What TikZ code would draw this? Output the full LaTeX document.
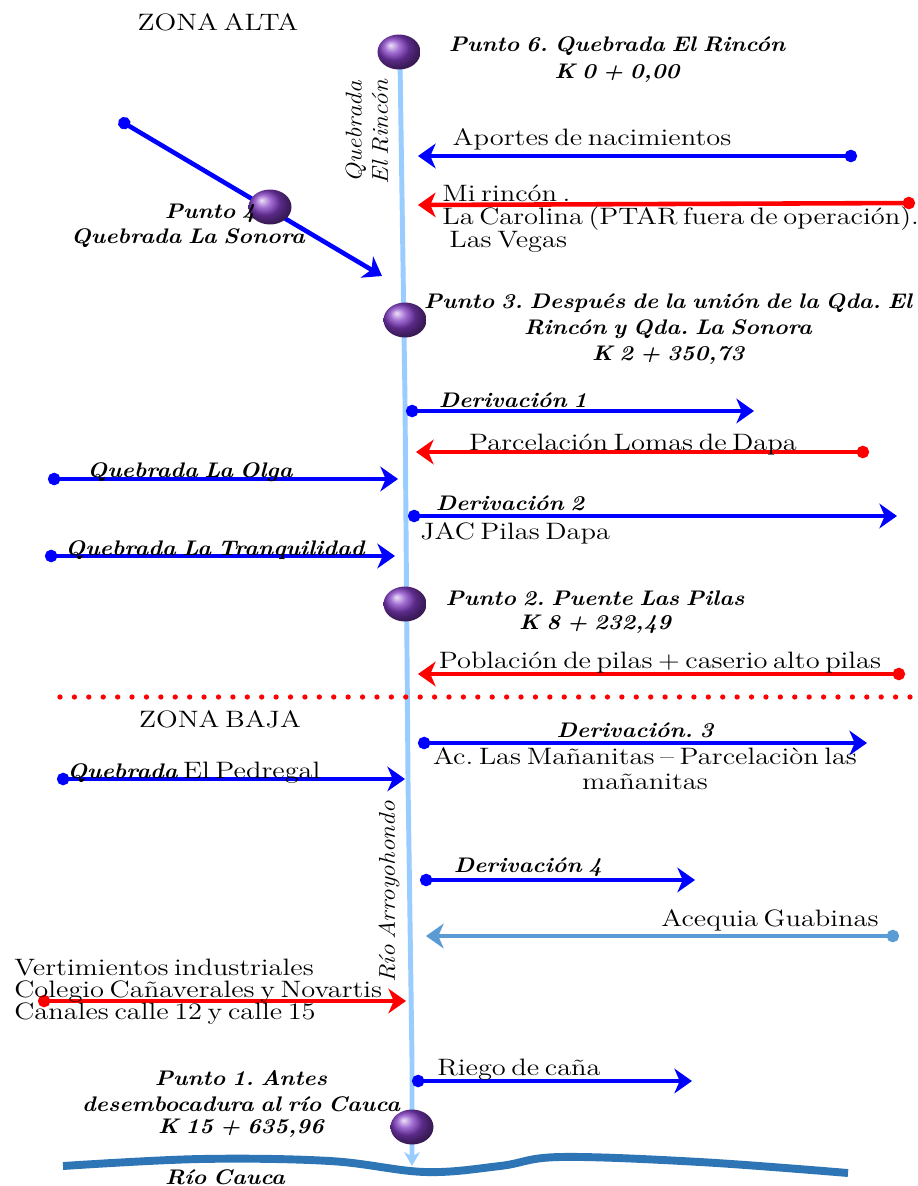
\documentclass[tikz,border=0pt]{standalone}
\usepackage{fontspec}
\setmainfont{Latin Modern Roman}[FakeStretch=1.2, WordSpace=0.6]
\newfontfamily\bifam{Latin Modern Roman}[FakeStretch=1.1, WordSpace=0.7]
\usetikzlibrary{arrows.meta,shapes.geometric}
\definecolor{riverlb}{RGB}{153,204,255}
\definecolor{flowblue}{RGB}{0,0,255}
\definecolor{flowred}{RGB}{255,0,0}
\definecolor{acequia}{RGB}{91,155,213}
\definecolor{cauca}{RGB}{46,117,182}
\definecolor{ballpurple}{RGB}{130,60,195}
\frenchspacing
\begin{document}
\begin{tikzpicture}[x=0.02cm,y=-0.02cm,
  reg/.style={font=\fontsize{13.5}{15}\selectfont, inner sep=0pt, anchor=base},
  bi/.style={font=\bifam\fontsize{12}{14}\selectfont\bfseries\itshape, inner sep=0pt, anchor=base},
  itl/.style={font=\bifam\fontsize{13}{15}\selectfont\itshape, inner sep=0pt, rotate=90, align=center},
  flow/.style={line width=2.6pt, {Circle[length=7pt]}-{Stealth[length=10pt,width=14pt,inset=3pt]}},
  bluef/.style={flow, flowblue},
  redf/.style={flow, flowred},
  aceqf/.style={flow, acequia},
  ballnode/.style={ellipse, minimum width=0.86cm, minimum height=0.7cm, inner sep=0pt, ball color=ballpurple, draw=none},
  river/.style={riverlb, line width=2.8pt, -{Stealth[length=8pt,width=9pt]}}]
\fill[white] (0,0) rectangle (917,1186);
\useasboundingbox (0,0) rectangle (917,1186);

% main river
\coordinate (r0) at (400,60);
\coordinate (r1) at (405,400);
\coordinate (r2) at (408,780);
\coordinate (r3) at (412,1060);
\coordinate (rend) at (412,1166);
\draw[river] (r0) -- (r1) -- (r2) -- (r3) -- (rend);

% Rio Cauca
\draw[cauca, line width=4.5pt] plot[smooth, tension=0.6] coordinates {(63,1166) (200,1159) (330,1161) (425,1172) (500,1166) (560,1157) (700,1162) (848,1173)};
\node[bi] (cauca) at (225,1184) {Río Cauca};

% zone labels and divider
\node[reg] (zalta) at (218,31) {ZONA ALTA};
\node[reg] (zbaja) at (220,727) {ZONA BAJA};
\coordinate (dl) at (60,697);
\coordinate (dr) at (912,697);
\draw[flowred, line width=3pt, line cap=round, dash pattern=on 0pt off 8.2pt] (dl) -- (dr);

% rotated river names
\node[itl] (qrincon) at (367,132) {Quebrada\\El Rincón};
\node[itl] (arroyo) at (389,892) {Río Arroyohondo};

% Aportes de nacimientos
\coordinate (a1s) at (857,156);
\coordinate (a1e) at (418,156);
\draw[bluef] (a1s) -- (a1e);
\node[reg] (aportes) at (592,145) {Aportes de nacimientos};

% Mi rincon
\coordinate (m1s) at (915,203);
\coordinate (m1e) at (418,205);
\draw[redf] (m1s) -- (m1e);
\node[reg, anchor=base west] (mir1) at (442,201) {Mi rincón .};
\node[reg, anchor=base west] (mir2) at (442,224) {La Carolina (PTAR fuera de operación).};
\node[reg, anchor=base west] (mir3) at (449,247) {Las Vegas};

% Quebrada La Sonora (diagonal)
\coordinate (s1s) at (119,120);
\coordinate (s1e) at (382,276);
\draw[bluef] (s1s) -- (s1e);
\node[ballnode] (p4) at (270,207) {};
\node[bi, anchor=base east] (p4a) at (256,218) {Punto 4};
\node[bi] (p4b) at (188,243) {Quebrada La Sonora};

% Derivacion 1
\coordinate (d1s) at (406,411);
\coordinate (d1e) at (754,411);
\draw[bluef] (d1s) -- (d1e);
\node[bi] (der1) at (513,407) {Derivación 1};

% Parcelacion Lomas de Dapa
\coordinate (pl1s) at (869,452);
\coordinate (pl1e) at (416,452);
\draw[redf] (pl1s) -- (pl1e);
\node[reg] (lomas) at (633,450) {Parcelación Lomas de Dapa};

% Quebrada La Olga
\coordinate (o1s) at (48,479);
\coordinate (o1e) at (398,479);
\draw[bluef] (o1s) -- (o1e);
\node[bi] (olga) at (190,477) {Quebrada La Olga};

% Derivacion 2
\coordinate (d2s) at (408,516);
\coordinate (d2e) at (897,516);
\draw[bluef] (d2s) -- (d2e);
\node[bi] (der2) at (510,510) {Derivación 2};
\node[reg, anchor=base west] (jac) at (420,539) {JAC Pilas Dapa};

% Quebrada La Tranquilidad
\coordinate (t1s) at (45,556);
\coordinate (t1e) at (395,556);
\draw[bluef] (t1s) -- (t1e);
\node[bi] (tranq) at (215,555) {Quebrada La Tranquilidad};

% Poblacion de pilas
\coordinate (pp1s) at (905,674);
\coordinate (pp1e) at (418,674);
\draw[redf] (pp1s) -- (pp1e);
\node[reg] (pilas) at (660,668) {Población de pilas + caserio alto pilas};

% Derivacion 3
\coordinate (d3s) at (418,743);
\coordinate (d3e) at (867,743);
\draw[bluef] (d3s) -- (d3e);
\node[bi] (der3) at (635,737) {Derivación. 3};
\node[reg] (man1) at (645,764) {Ac. Las Mañanitas – Parcelaciòn las};
\node[reg] (man2) at (645,789) {mañanitas};

% Quebrada El Pedregal
\coordinate (e1s) at (57,779);
\coordinate (e1e) at (405,779);
\draw[bluef] (e1s) -- (e1e);
\node[reg, anchor=base west] (pedregal) at (67,778) {{\bifam\fontsize{12}{14}\selectfont\bfseries\itshape Quebrada} El Pedregal};

% Derivacion 4
\coordinate (d4s) at (420,880);
\coordinate (d4e) at (695,880);
\draw[bluef] (d4s) -- (d4e);
\node[bi] (der4) at (528,872) {Derivación 4};

% Acequia Guabinas
\coordinate (g1s) at (899,936);
\coordinate (g1e) at (426,936);
\draw[aceqf] (g1s) -- (g1e);
\node[reg] (guab) at (770,926) {Acequia Guabinas};

% Vertimientos
\coordinate (v1s) at (38,1001);
\coordinate (v1e) at (406,1001);
\draw[redf] (v1s) -- (v1e);
\node[reg, anchor=base west] (vert1) at (14,975) {Vertimientos industriales};
\node[reg, anchor=base west] (vert2) at (14,997) {Colegio Cañaverales y Novartis};
\node[reg, anchor=base west] (vert3) at (14,1019) {Canales calle 12 y calle 15};

% Riego de cana
\coordinate (c1s) at (412,1081);
\coordinate (c1e) at (692,1081);
\draw[bluef] (c1s) -- (c1e);
\node[reg, anchor=base west] (riego) at (437,1075) {Riego de caña};

% monitoring points
\node[ballnode] (p6) at (399,52) {};
\node[bi] (p6a) at (617,52) {Punto 6. Quebrada El Rincón};
\node[bi] (p6b) at (617,79) {K 0 + 0,00};

\node[ballnode] (p3) at (405,320) {};
\node[bi] (p3a) at (668,308) {Punto 3. Después de la unión de la Qda. El};
\node[bi] (p3b) at (668,334) {Rincón y Qda. La Sonora};
\node[bi] (p3c) at (668,360) {K 2 + 350,73};

\node[ballnode] (p2) at (405,604) {};
\node[bi] (p2a) at (595,605) {Punto 2. Puente Las Pilas};
\node[bi] (p2b) at (595,629) {K 8 + 232,49};

\node[ballnode] (p1) at (412,1127) {};
\node[bi] (p1a) at (241,1085) {Punto 1. Antes};
\node[bi] (p1b) at (241,1111) {desembocadura al río Cauca};
\node[bi] (p1c) at (241,1133) {K 15 + 635,96};
\end{tikzpicture}
\end{document}
